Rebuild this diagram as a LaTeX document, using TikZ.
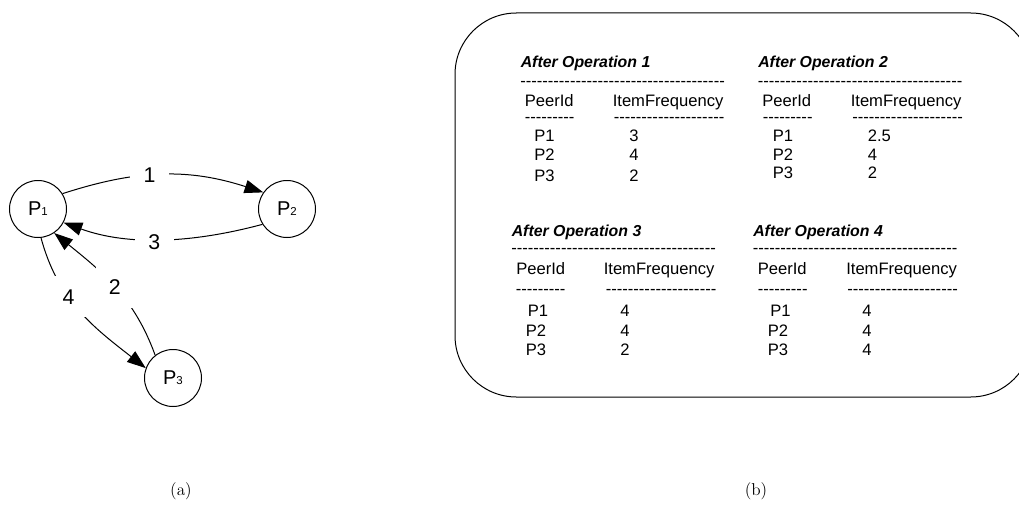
\documentclass[tikz,border=0pt]{standalone}
\usepackage{fontspec}
\usetikzlibrary{arrows.meta}
\newfontfamily\af[Ligatures=TeXOff]{Liberation Sans}
\newcommand\tabsize{\fontsize{12.45}{14}\selectfont}
\newcommand\dashrow[1]{\foreach\k in {1,...,#1}{-}}
\newcommand\peer[1]{{\fontsize{15}{15}\selectfont P}{\fontsize{8.6}{9}\selectfont #1}}
\tikzset{
  peernode/.style={circle, draw, line width=0.75pt, minimum size=42.75pt, inner sep=0pt, font=\af},
  arr/.style={line width=0.75pt, -{Triangle[length=14pt,width=10pt]}},
  lbl/.style={fill=white, inner sep=10pt, font=\af\fontsize{16}{16}\selectfont},
  txt/.style={anchor=base west, inner sep=0pt, font=\af\tabsize},
  head/.style={anchor=base west, inner sep=0pt, font=\af\fontsize{11.9}{14}\selectfont\bfseries\itshape},
  frame/.style={draw, line width=0.75pt, rounded corners=46pt},
  captext/.style={anchor=base, inner sep=0pt, font=\fontsize{12.9}{15}\selectfont}
}
\begin{document}
\begin{tikzpicture}[x=0.75pt,y=0.75pt]
\useasboundingbox (0,0) rectangle (1019,-506);
\clip (0,0) rectangle (1019,-506);

% ---- (a) message exchange between peers ----
\node[peernode] (P1) at (38,-209) {\peer{1}};
\node[peernode] (P2) at (287,-209) {\peer{2}};
\node[peernode] (P3) at (173,-378) {\peer{3}};

\draw[arr] (P1.32) to[out=18,in=162] node[pos=.43,lbl] (e1) {1} (P2.145);
\draw[arr] (P2.212) to[out=195,in=-20,looseness=.9] node[pos=.54,lbl,yshift=-2pt] (e3) {3} (P1.-28);
\draw[arr] (P3.128) to[out=110,in=-39] node[pos=.5,lbl] (e2) {2} (P1.-56);
\draw[arr] (P1.-84) to[out=-75,in=142] node[pos=.38,lbl] (e4) {4} (P3.160);

\node[captext] (capa) at (181,-495) {(a)};

% ---- (b) tables after each operation ----
\draw[frame] (455,-13) rectangle (1032,-397);

% table after operation 1
\node[head] (h1) at (520.5,-67.3) {After Operation 1};
\node[txt] (r1) at (520,-86.3) {\dashrow{37}};
\node[txt] (c1a) at (524.5,-106.7) {PeerId};
\node[txt] (c1b) at (612.5,-106.7) {ItemFrequency};
\node[txt] (s1a) at (524.5,-122.9) {\dashrow{9}};
\node[txt] (s1b) at (613.5,-122.9) {\dashrow{20}};
\node[txt] (p11) at (534,-141.7) {P1};
\node[txt] (p12) at (534,-160.7) {P2};
\node[txt] (p13) at (534,-181) {P3};
\node[txt] (v11) at (629,-141.7) {3};
\node[txt] (v12) at (629,-160.7) {4};
\node[txt] (v13) at (629,-181) {2};

% table after operation 2
\node[head] (h2) at (758,-67.3) {After Operation 2};
\node[txt] (r2) at (757.5,-86.3) {\dashrow{37}};
\node[txt] (c2a) at (762,-106.7) {PeerId};
\node[txt] (c2b) at (850.5,-106.7) {ItemFrequency};
\node[txt] (s2a) at (762.5,-122.9) {\dashrow{9}};
\node[txt] (s2b) at (852,-122.9) {\dashrow{20}};
\node[txt] (p21) at (772.5,-141.7) {P1};
\node[txt] (p22) at (772.5,-160) {P2};
\node[txt] (p23) at (772.5,-178.3) {P3};
\node[txt] (v21) at (867.5,-141.7) {2.5};
\node[txt] (v22) at (867.5,-160) {4};
\node[txt] (v23) at (867.5,-178.3) {2};

% table after operation 3
\node[head] (h3) at (511.5,-236.7) {After Operation 3};
\node[txt] (r3) at (511,-253.9) {\dashrow{37}};
\node[txt] (c3a) at (516,-274) {PeerId};
\node[txt] (c3b) at (603.5,-274) {ItemFrequency};
\node[txt] (s3a) at (515.5,-294.6) {\dashrow{9}};
\node[txt] (s3b) at (605.5,-294.6) {\dashrow{20}};
\node[txt] (p31) at (527.5,-316.7) {P1};
\node[txt] (p32) at (525.5,-336) {P2};
\node[txt] (p33) at (525.5,-355) {P3};
\node[txt] (v31) at (620,-316.7) {4};
\node[txt] (v32) at (620,-336) {4};
\node[txt] (v33) at (620,-355) {2};

% table after operation 4
\node[head] (h4) at (753,-236.7) {After Operation 4};
\node[txt] (r4) at (752.5,-253.9) {\dashrow{37}};
\node[txt] (c4a) at (757.5,-274) {PeerId};
\node[txt] (c4b) at (846,-274) {ItemFrequency};
\node[txt] (s4a) at (757.5,-294.6) {\dashrow{9}};
\node[txt] (s4b) at (847,-294.6) {\dashrow{20}};
\node[txt] (p41) at (770,-316.7) {P1};
\node[txt] (p42) at (767.5,-336) {P2};
\node[txt] (p43) at (767.5,-355) {P3};
\node[txt] (v41) at (862,-316.7) {4};
\node[txt] (v42) at (862,-336) {4};
\node[txt] (v43) at (862,-355) {4};

\node[captext] (capb) at (756,-495) {(b)};
\end{tikzpicture}
\end{document}
